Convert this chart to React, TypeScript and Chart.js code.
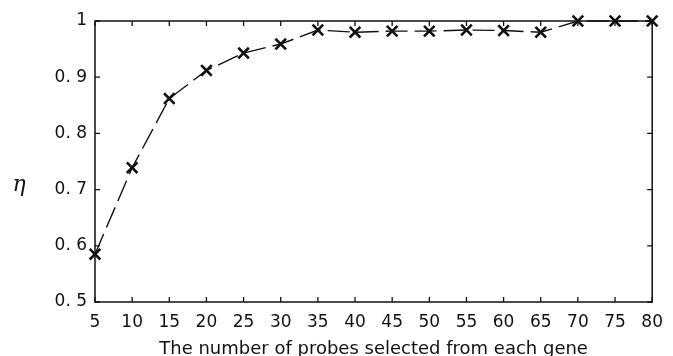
import React, { useEffect, useRef } from "react";
import { Chart, registerables } from "chart.js";

Chart.register(...registerables);

const probes = [5, 10, 15, 20, 25, 30, 35, 40, 45, 50, 55, 60, 65, 70, 75, 80];
const eta = [0.585, 0.739, 0.862, 0.912, 0.943, 0.959, 0.984, 0.98, 0.982, 0.982, 0.984, 0.983, 0.98, 1.0, 1.0, 1.0];
const xTicks = [5, 10, 15, 20, 25, 30, 35, 40, 45, 50, 55, 60, 65, 70, 75, 80];
const yTicks = [0.5, 0.6, 0.7, 0.8, 0.9, 1.0];
const yTickLabels = ["0. 5", "0. 6", "0. 7", "0. 8", "0. 9", "1"];
const xTitle = "The number of probes selected from each gene";
const yTitle = "η";

const INK = "#111";

const framePlugin = {
  id: "frameTicks",
  beforeDatasetsDraw(chart: any) {
    const { ctx, chartArea } = chart;
    const { left, right, top, bottom } = chartArea;
    const xs = chart.scales.x;
    const ys = chart.scales.y;
    const tl = 5;
    ctx.save();
    ctx.strokeStyle = INK;
    ctx.lineWidth = 1.5;
    ctx.strokeRect(left, top, right - left, bottom - top);
    ctx.lineWidth = 1.3;
    ctx.beginPath();
    xTicks.forEach((v) => {
      const px = xs.getPixelForValue(v);
      ctx.moveTo(px, bottom);
      ctx.lineTo(px, bottom - tl);
      ctx.moveTo(px, top);
      ctx.lineTo(px, top + tl);
    });
    yTicks.forEach((v) => {
      const py = ys.getPixelForValue(v);
      ctx.moveTo(left, py);
      ctx.lineTo(left + tl, py);
      ctx.moveTo(right, py);
      ctx.lineTo(right - tl, py);
    });
    ctx.stroke();
    ctx.restore();
  },
  afterDraw(chart: any) {
    const { ctx, chartArea } = chart;
    ctx.save();
    ctx.fillStyle = INK;
    ctx.font = "italic 22px 'DejaVu Serif'";
    ctx.textAlign = "center";
    ctx.textBaseline = "middle";
    ctx.fillText(yTitle, 19, (chartArea.top + chartArea.bottom) / 2 + 24);
    ctx.restore();
  },
};

export default function App() {
  const ref = useRef<HTMLCanvasElement | null>(null);
  useEffect(() => {
    if (!ref.current) return;
    const chart = new Chart(ref.current, {
      type: "line",
      data: {
        datasets: [
          {
            data: probes.map((p, i) => ({ x: p, y: eta[i] })),
            borderColor: INK,
            borderWidth: 1.4,
            borderDash: [22, 7],
            pointStyle: "crossRot",
            pointRadius: 7.5,
            pointBorderWidth: 2.6,
            pointBorderColor: INK,
            pointBackgroundColor: INK,
            fill: false,
            tension: 0,
            clip: false as any,
          },
        ],
      },
      options: {
        responsive: false,
        animation: false,
        layout: { padding: { left: 0, right: 11, top: 21, bottom: 0 } },
        plugins: {
          legend: { display: false },
          tooltip: { enabled: false },
        },
        scales: {
          x: {
            type: "linear",
            min: 5,
            max: 80,
            grid: { display: false, drawTicks: false },
            border: { display: false },
            afterBuildTicks: (s: any) => {
              s.ticks = xTicks.map((v) => ({ value: v }));
            },
            afterFit: (s: any) => {
              s.height = 54;
            },
            ticks: {
              color: INK,
              padding: 10,
              maxRotation: 0,
              autoSkip: false,
              font: { family: "'DejaVu Sans'", size: 17 },
              callback: (v: any) => String(v),
            },
            title: {
              display: true,
              text: xTitle,
              color: INK,
              font: { family: "'DejaVu Sans'", size: 18 },
              padding: { top: 0, bottom: -4 },
            },
          },
          y: {
            type: "linear",
            min: 0.5,
            max: 1.0,
            grid: { display: false, drawTicks: false },
            border: { display: false },
            afterBuildTicks: (s: any) => {
              s.ticks = yTicks.map((v) => ({ value: v }));
            },
            afterFit: (s: any) => {
              s.width = 95;
            },
            ticks: {
              color: INK,
              padding: 8,
              font: { family: "'DejaVu Sans'", size: 17 },
              callback: (v: any) => {
                const i = yTicks.findIndex((t) => Math.abs(t - Number(v)) < 1e-6);
                return i >= 0 ? yTickLabels[i] : "";
              },
            },
          },
        },
      },
      plugins: [framePlugin],
    });
    return () => chart.destroy();
  }, []);
  return (
    <div style={{ position: "absolute", left: 0, top: 0, width: 673, height: 356, background: "#fff" }}>
      <canvas ref={ref} width={673} height={356} style={{ display: "block" }} />
    </div>
  );
}
